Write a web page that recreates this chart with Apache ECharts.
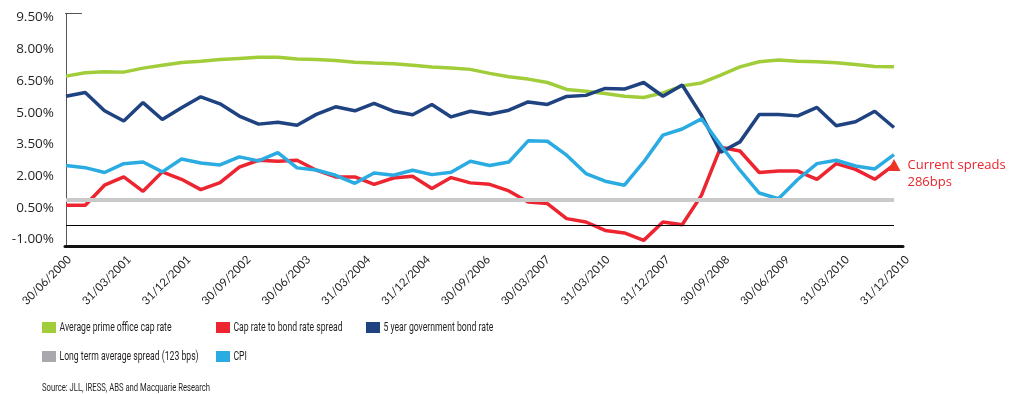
<!DOCTYPE html>
<html>
<head>
<meta charset="utf-8">
<title>Cap rate to bond rate spread</title>
<script src="https://cdn.jsdelivr.net/npm/echarts@6/dist/echarts.min.js"></script>
<style>
  html, body { margin: 0; padding: 0; background: #fff; }
  #chart { width: 1016px; height: 394px; }
</style>
</head>
<body>
<div id="chart"></div>
<script>
// quarter ends, one per data point
var quarters = [
  '30/06/2000', '30/09/2000', '31/12/2000',
  '31/03/2001', '30/06/2001', '30/09/2001', '31/12/2001',
  '31/03/2002', '30/06/2002', '30/09/2002', '31/12/2002',
  '31/03/2003', '30/06/2003', '30/09/2003', '31/12/2003',
  '31/03/2004', '30/06/2004', '30/09/2004', '31/12/2004',
  '31/03/2005', '30/06/2005', '30/09/2005', '31/12/2005',
  '31/03/2006', '30/06/2006', '30/09/2006', '31/12/2006',
  '31/03/2007', '30/06/2007', '30/09/2007', '31/12/2007',
  '31/03/2008', '30/06/2008', '30/09/2008', '31/12/2008',
  '31/03/2009', '30/06/2009', '30/09/2009', '31/12/2009',
  '31/03/2010', '30/06/2010', '30/09/2010', '31/12/2010',
  '31/03/2011'
]

// axis labels exactly as printed on the original (every third quarter)
var tickLabels = [
  '30/06/2000', '31/03/2001', '31/12/2001', '30/09/2002', '30/06/2003',
  '31/03/2004', '31/12/2004', '30/09/2006', '30/03/2007', '31/03/2010',
  '31/12/2007', '30/09/2008', '30/06/2009', '31/03/2010', '31/12/2010'
]

var capRate = [7.06, 7.22, 7.27, 7.25, 7.44, 7.58, 7.71, 7.76, 7.85, 7.90,
  7.95, 7.95, 7.87, 7.85, 7.80, 7.72, 7.68, 7.65, 7.58, 7.49,
  7.44, 7.38, 7.19, 7.03, 6.92, 6.76, 6.43, 6.34, 6.24, 6.11,
  6.05, 6.27, 6.60, 6.74, 7.11, 7.50, 7.74, 7.82, 7.77, 7.74,
  7.69, 7.61, 7.52, 7.50]

var spread = [0.95, 0.95, 1.90, 2.29, 1.61, 2.53, 2.18, 1.69, 2.02, 2.76,
  3.08, 3.03, 3.08, 2.61, 2.29, 2.29, 1.94, 2.24, 2.32, 1.74,
  2.26, 2.01, 1.94, 1.63, 1.11, 1.03, 0.32, 0.16, -0.24, -0.36,
  -0.71, 0.16, 0.03, 1.42, 3.70, 3.52, 2.50, 2.57, 2.57, 2.18,
  2.92, 2.65, 2.18, 2.86]

var bondRate = [6.11, 6.29, 5.42, 4.94, 5.81, 5.01, 5.56, 6.08, 5.75, 5.17,
  4.79, 4.88, 4.74, 5.25, 5.61, 5.42, 5.77, 5.40, 5.23, 5.72,
  5.13, 5.40, 5.26, 5.45, 5.84, 5.72, 6.10, 6.15, 6.48, 6.45,
  6.76, 6.11, 6.64, 5.21, 3.46, 3.95, 5.25, 5.25, 5.18, 5.58,
  4.71, 4.90, 5.40, 4.63]

var cpi = [2.83, 2.73, 2.50, 2.92, 3.00, 2.53, 3.14, 2.95, 2.86, 3.24,
  3.05, 3.44, 2.72, 2.62, 2.37, 1.99, 2.48, 2.37, 2.61, 2.40,
  2.51, 3.03, 2.83, 3.00, 4.00, 3.98, 3.32, 2.45, 2.09, 1.90,
  3.00, 4.27, 4.56, 5.04, 3.79, 2.61, 1.53, 1.26, 2.17, 2.92,
  3.08, 2.81, 2.67, 3.35]

var longTermAvg = 1.23 // 123 bps
var currentSpread = 2.86 // 286 bps

var GREEN = '#a1cd3a'
var RED = '#ec2530'
var NAVY = '#1f4280'
var CYAN = '#2aace2'
var GREY = '#c9c9c9'
var TEXT = '#231f20'

// legend slots: icon position of each entry (the original sets them in columns)
var legendSlots = [
  { name: 'Average prime office cap rate', left: 42, top: 322 },
  { name: 'Cap rate to bond rate spread', left: 216, top: 322 },
  { name: '5 year government bond rate', left: 366, top: 322 },
  { name: 'Long term average spread (123 bps)', left: 42, top: 351 },
  { name: 'CPI', left: 216, top: 351 },
]
var sourceNote = 'Source: JLL, IRESS, ABS and Macquarie Research'

// the original uses a condensed face; squeeze a normal one to the same width
var measureCtx = document.createElement('canvas').getContext('2d')
function textWidth(str, font) {
  measureCtx.font = font
  return measureCtx.measureText(str).width
}
var LEGEND_FONT = '13px Roboto'
var legendSqueeze = 112 / textWidth('Average prime office cap rate', LEGEND_FONT)
var SOURCE_FONT = '11.5px Roboto'
var sourceSqueeze = 168 / textWidth(sourceNote, SOURCE_FONT)

var myChart = echarts.init(document.getElementById('chart'))

function lineSeries(name, data, color) {
  return {
    name: name,
    type: 'line',
    data: data,
    symbol: 'none',
    lineStyle: { color: color, width: 3.5 },
    itemStyle: { color: color },
  }
}

var last = quarters.length - 1

var spreadSeries = lineSeries('Cap rate to bond rate spread', spread, RED)
spreadSeries.markPoint = {
  symbol: 'triangle',
  symbolSize: [13, 12],
  silent: true,
  itemStyle: { color: '#ee3326' },
  label: {
    show: true,
    position: 'right',
    distance: 7,
    offset: [0, 9],
    formatter: 'Current spreads\n' + Math.round(currentSpread * 100) + 'bps',
    color: '#e8262d',
    fontFamily: 'Open Sans',
    fontSize: 13,
    lineHeight: 17,
    align: 'left',
  },
  data: [{ coord: [last, spread[last]] }],
}

// legend: icons from the legend component, labels as squeezed text
var legends = legendSlots.map(function (slot) {
  return {
    left: slot.left,
    top: slot.top,
    padding: 0,
    itemWidth: 14,
    itemHeight: 11,
    icon: 'rect',
    selectedMode: false,
    textStyle: { fontSize: 10, lineHeight: 11 },
    formatter: function () {
      return ''
    },
    data: [slot.name],
  }
})

var legendLabels = legendSlots.map(function (slot) {
  return {
    type: 'text',
    x: slot.left + 17.5,
    y: slot.top + 6,
    scaleX: legendSqueeze,
    silent: true,
    style: {
      text: slot.name,
      font: LEGEND_FONT,
      fill: TEXT,
      verticalAlign: 'middle',
    },
  }
})

var option = {
  animation: false,
  backgroundColor: '#fff',
  grid: [
    // data area
    { left: 66, right: 122, top: 14, bottom: 147.5 },
    // date labels + heavy base line (printed a little wider than the data)
    { left: 65, right: 113, top: 14, bottom: 147.5 },
  ],
  legend: legends,
  xAxis: [
    {
      type: 'category',
      gridIndex: 0,
      data: quarters,
      boundaryGap: false,
      show: false,
    },
    {
      type: 'category',
      gridIndex: 1,
      data: tickLabels,
      boundaryGap: false,
      axisLine: { onZero: false, lineStyle: { color: '#111', width: 3 } },
      axisTick: { show: false },
      axisLabel: {
        rotate: 45,
        interval: 0,
        margin: 7,
        verticalAlign: 'top',
        color: TEXT,
        fontFamily: 'Lato',
        fontSize: 11.5,
      },
    },
  ],
  yAxis: [
    {
      type: 'value',
      gridIndex: 0,
      min: -1,
      max: 10,
      interval: 1.5,
      splitLine: { show: false },
      axisTick: { show: false },
      axisLine: { show: true, lineStyle: { color: '#555', width: 1 } },
      axisLabel: {
        showMaxLabel: false,
        margin: 12,
        color: TEXT,
        fontFamily: 'Open Sans',
        fontSize: 13.5,
        // the original prints its value labels a little above their ticks
        verticalAlign: 'bottom',
        lineHeight: 14,
        formatter: function (v) {
          return v.toFixed(2) + '%'
        },
      },
    },
    { type: 'value', gridIndex: 1, min: -1, max: 10, show: false },
  ],
  graphic: legendLabels.concat([
    {
      type: 'line',
      shape: { x1: 65, y1: 13.5, x2: 82, y2: 13.5 },
      style: { stroke: '#555', lineWidth: 1 },
    },
    {
      type: 'text',
      x: 42,
      y: 388,
      scaleX: sourceSqueeze,
      silent: true,
      style: {
        text: sourceNote,
        font: SOURCE_FONT,
        fill: TEXT,
        verticalAlign: 'middle',
      },
    },
  ]),
  series: [
    {
      // long term average + zero reference, drawn underneath everything
      name: 'Long term average spread (123 bps)',
      type: 'line',
      data: [],
      symbol: 'none',
      lineStyle: { color: '#a7a9ac' },
      itemStyle: { color: '#a7a9ac' },
      markLine: {
        silent: true,
        symbol: ['none', 'none'],
        label: { show: false },
        data: [
          { yAxis: longTermAvg, lineStyle: { color: GREY, width: 4, type: 'solid' } },
          { yAxis: 0, lineStyle: { color: '#000', width: 1, type: 'solid' } },
        ],
      },
    },
    lineSeries('Average prime office cap rate', capRate, GREEN),
    spreadSeries,
    lineSeries('5 year government bond rate', bondRate, NAVY),
    lineSeries('CPI', cpi, CYAN),
  ],
}

myChart.setOption(option)
</script>
</body>
</html>
